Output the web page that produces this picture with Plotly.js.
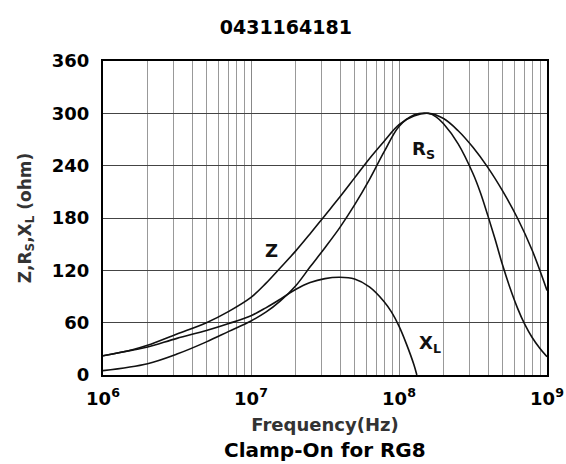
<!DOCTYPE html>
<html>
<head>
<meta charset="utf-8">
<script src="https://cdn.plot.ly/plotly-3.0.1.min.js"></script>
<style>html,body{margin:0;padding:0;background:#fff;}#chart{width:566px;height:464px;}</style>
</head>
<body>
<div id="chart"></div>
<script>
// ---- data ----
const zFreq = [1e6, 1.58e6, 2e6, 3.16e6, 5e6, 7.08e6, 1e7, 1.26e7, 1.58e7, 2e7, 2.51e7, 3.16e7, 3.98e7, 5.01e7, 6.31e7, 7.94e7, 1e8, 1.26e8, 1.58e8, 2e8, 2.51e8, 3.16e8, 3.98e8, 5.01e8, 6.31e8, 7.94e8, 1e9];
const zVals = [22, 29, 34, 47, 60, 73, 89, 105, 123, 142, 162, 183, 204, 226, 248, 268, 287, 297, 300, 294, 280, 261, 238, 211, 180, 143, 97];

const rsFreq = [1e6, 2e6, 3.16e6, 5e6, 7.08e6, 1e7, 1.26e7, 1.58e7, 2e7, 2.51e7, 3.16e7, 3.98e7, 5.01e7, 6.31e7, 7.94e7, 1e8, 1.26e8, 1.58e8, 1.78e8, 2e8, 2.51e8, 3.16e8, 3.55e8, 3.98e8, 4.47e8, 5.01e8, 5.62e8, 6.31e8, 7.08e8, 7.94e8, 8.91e8, 1e9];
const rsVals = [5, 13, 24, 38, 50, 62, 72, 85, 102, 124, 146, 169, 195, 224, 256, 285, 298, 300, 296, 288, 265, 231, 209, 183, 155, 126, 100, 77, 58, 43, 31, 21];

const xlFreq = [1e6, 1.58e6, 2e6, 3.16e6, 5e6, 7.08e6, 1e7, 1.26e7, 1.58e7, 2e7, 2.51e7, 3.16e7, 3.98e7, 5.01e7, 6.31e7, 7.94e7, 8.91e7, 1e8, 1.12e8, 1.26e8, 1.32e8];
const xlVals = [22, 28.5, 32, 42, 51, 59, 68, 77, 87, 98, 106, 110.5, 112, 110, 101, 84, 72, 56, 36, 12, 0];

const xTickVals = [1e6, 1e7, 1e8, 1e9];
const xTickText = ['10<sup>6</sup>', '10<sup>7</sup>', '10<sup>8</sup>', '10<sup>9</sup>'];
const xMinorVals = [2e6,3e6,4e6,5e6,6e6,7e6,8e6,9e6, 2e7,3e7,4e7,5e7,6e7,7e7,8e7,9e7, 2e8,3e8,4e8,5e8,6e8,7e8,8e8,9e8];
const yTickVals = [0, 60, 120, 180, 240, 300, 360];

const curveLabels = [
  {text: 'Z', x: 1.37e7, y: 143},
  {text: 'R<sub>S</sub>', x: 1.46e8, y: 258},
  {text: 'X<sub>L</sub>', x: 1.62e8, y: 36}
];

const FONT = 'DejaVu Sans, Verdana, sans-serif';
const lineStyle = {color: '#111', width: 1.6, shape: 'spline', smoothing: 1};

const traces = [
  {x: zFreq, y: zVals, mode: 'lines', line: lineStyle, name: 'Z', hoverinfo: 'skip'},
  {x: rsFreq, y: rsVals, mode: 'lines', line: lineStyle, name: 'Rs', hoverinfo: 'skip'},
  {x: xlFreq, y: xlVals, mode: 'lines', line: lineStyle, name: 'XL', hoverinfo: 'skip'}
];

const annotations = curveLabels.map(l => ({
  text: l.text, x: Math.log10(l.x), y: l.y, xref: 'x', yref: 'y',
  showarrow: false, font: {family: FONT, size: 18, color: '#111', weight: 'bold'}
}));
annotations.push({
  text: 'Clamp-On for RG8', xref: 'paper', yref: 'paper', x: 0.5, y: -0.239,
  xanchor: 'center', yanchor: 'middle', showarrow: false,
  font: {family: FONT, size: 20, color: '#000', weight: 'bold'}
});

const layout = {
  width: 566, height: 464,
  margin: {l: 103, r: 19, t: 61, b: 89},
  paper_bgcolor: '#fff', plot_bgcolor: '#fff',
  showlegend: false,
  title: {text: '0431164181', x: 0.505, xref: 'container', y: 0.942, yref: 'container', yanchor: 'middle',
          font: {family: FONT, size: 19, color: '#000', weight: 'bold'}},
  xaxis: {
    type: 'log', range: [6, 9],
    tickvals: xTickVals, ticktext: xTickText, ticks: '',
    ticklabelstandoff: 6,
    tickfont: {family: FONT, size: 18, color: '#000', weight: 'bold'},
    showgrid: true, gridcolor: '#888', gridwidth: 1,
    minor: {tickvals: xMinorVals, showgrid: true, gridcolor: '#999', gridwidth: 1, ticks: ''},
    showline: true, mirror: true, linecolor: '#000', linewidth: 2,
    zeroline: false,
    title: {text: 'Frequency(Hz)', standoff: 11, font: {family: FONT, size: 18, color: '#333', weight: 'bold'}}
  },
  yaxis: {
    range: [0, 360], tickvals: yTickVals, ticks: '',
    ticklabelstandoff: 8,
    tickfont: {family: FONT, size: 18, color: '#000', weight: 'bold'},
    showgrid: true, gridcolor: '#444', gridwidth: 1,
    showline: true, mirror: true, linecolor: '#000', linewidth: 2,
    zeroline: false,
    title: {text: 'Z,R<sub>S</sub>,X<sub>L</sub> (ohm)', standoff: 16,
            font: {family: FONT, size: 17, color: '#333', weight: 'bold'}}
  },
  annotations: annotations
};

Plotly.newPlot('chart', traces, layout, {staticPlot: true, displayModeBar: false});
</script>
</body>
</html>
